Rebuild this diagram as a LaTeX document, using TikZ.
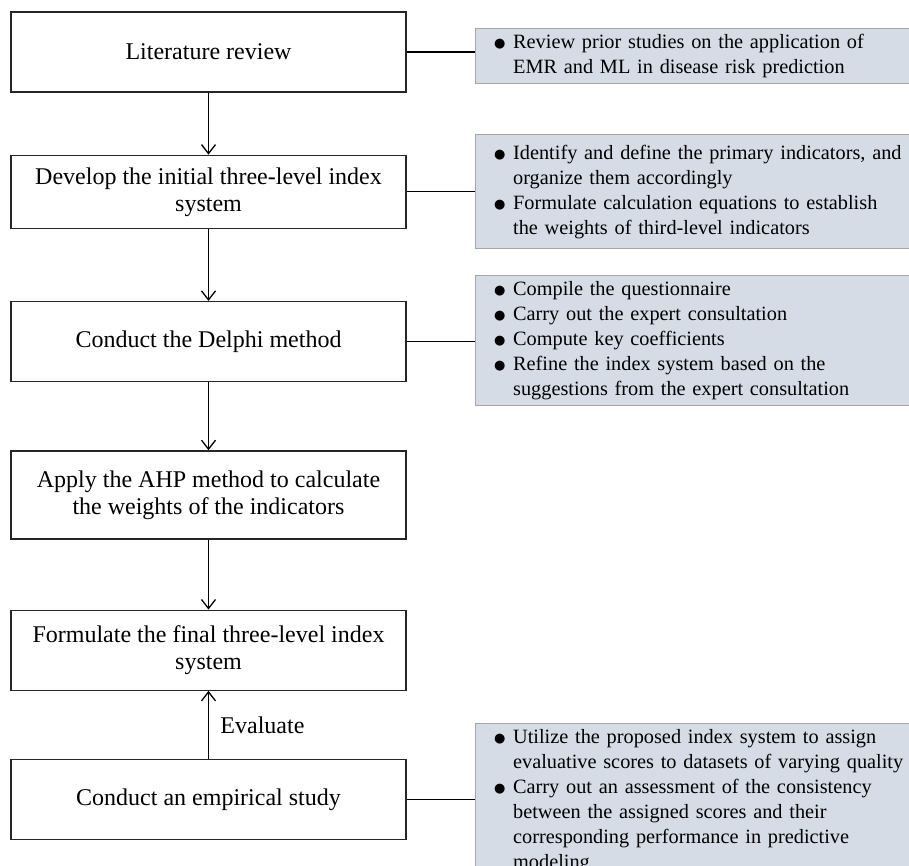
\documentclass[tikz,border=0pt]{standalone}
\usepackage{fontspec}
\setmainfont{Liberation Serif}
\newfontfamily\bulletfont{DejaVu Sans}
\usetikzlibrary{positioning}
\usetikzlibrary{arrows.meta}
\definecolor{notefill}{HTML}{D6DCE5}
\definecolor{noteedge}{HTML}{A6A6A6}
\newcommand{\noteitem}{\makebox[19pt][l]{{\bulletfont\fontsize{13}{13}\selectfont\raisebox{1pt}{●}}}}
\newcommand{\notecont}{\hspace*{19pt}}

\begin{document}
\begin{tikzpicture}[x=1pt, y=1pt,
  stage/.style={
    draw=black!85,
    line width=1.3pt,
    minimum width=395pt,
    minimum height=80pt,
    inner sep=0pt,
    align=center,
    font=\fontsize{24}{27}\selectfont
  },
  note/.style={
    draw=noteedge,
    fill=notefill,
    line width=1pt,
    text width=440pt,
    inner xsep=19pt,
    align=left,
    font=\fontsize{20.3}{25}\selectfont
  },
  arrow/.style={
    -{Straight Barb[length=9pt,width=14pt]},
    line width=1.3pt
  },
  link/.style={line width=1.2pt},
  steplabel/.style={font=\fontsize{24}{27}\selectfont}]
		\clip (0,0) rectangle (909,-866);
		% Stages
		\node[stage] (lit) at (208.5,-52) {Literature review};
		\node[stage, minimum height=73pt, below=62pt of lit] (dev) {Develop the initial three-level index\\system};
		\node[stage, below=72pt of dev] (delphi) {Conduct the Delphi method};
		\node[stage, minimum height=88pt, below=68pt of delphi] (ahp) {Apply the AHP method to calculate\\the weights of the indicators};
		\node[stage, below=70pt of ahp] (final) {Formulate the final three-level index\\system};
		\node[stage, below=68pt of final] (empir) {Conduct an empirical study};
		% Notes
		\node[note, right=68pt of lit, yshift=-4pt, minimum height=55pt] (litnote) {\noteitem Review prior studies on the application of\\\notecont EMR and ML in disease risk prediction};
		\node[note, right=68pt of dev, minimum height=114pt] (devnote) {\noteitem Identify and define the primary indicators, and\\\notecont organize them accordingly\\\noteitem Formulate calculation equations to establish\\\notecont the weights of third-level indicators};
		\node[note, right=68pt of delphi, yshift=1pt, minimum height=130pt] (delphinote) {\noteitem Compile the questionnaire\\\noteitem Carry out the expert consultation\\\noteitem Compute key coefficients\\\noteitem Refine the index system based on the\\\notecont suggestions from the expert consultation};
		\node[note, right=68pt of empir, yshift=-2pt, minimum height=156pt] (empirnote) {\noteitem Utilize the proposed index system to assign\\\notecont evaluative scores to datasets of varying quality\\\noteitem Carry out an assessment of the consistency\\\notecont between the assigned scores and their\\\notecont corresponding performance in predictive\\\notecont modeling};
		% Arrows
		\draw[arrow] (lit) -- (dev);
		\draw[arrow] (dev) -- (delphi);
		\draw[arrow] (delphi) -- (ahp);
		\draw[arrow] (ahp) -- (final);
		\draw[arrow] (empir) -- (final) node[midway, right, xshift=8pt, steplabel] {Evaluate};
		% Links
		\draw[link] (lit.east) -- (lit.east -| litnote.west);
		\draw[link] (dev.east) -- (dev.east -| devnote.west);
		\draw[link] (delphi.east) -- (delphi.east -| delphinote.west);
		\draw[link] (empir.east) -- (empir.east -| empirnote.west);
	\end{tikzpicture}
\end{document}
